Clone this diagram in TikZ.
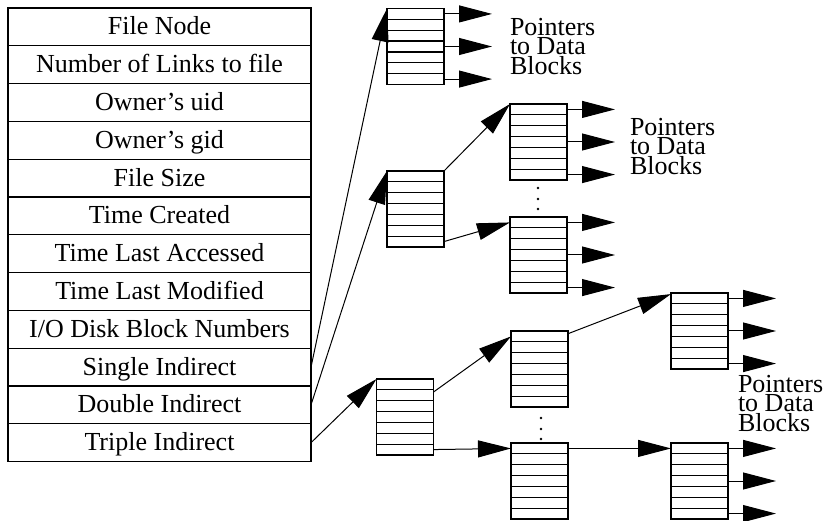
\documentclass[tikz,border=0pt]{standalone}
\usepackage{fontspec}
\setmainfont{Liberation Serif}
\usetikzlibrary{arrows.meta,calc}

\begin{document}
\begin{tikzpicture}[x=1pt,y=-1pt,
  every node/.style={inner sep=0pt, outer sep=0pt},
  field/.style={draw, line width=1.2pt, minimum width=303pt, minimum height=37.8pt,
    font=\fontsize{26}{30}\selectfont, text height=18pt, text depth=2pt},
  blockbox/.style={draw, line width=1.2pt, minimum width=57pt, minimum height=76pt,
    anchor=north west,
    path picture={
      \foreach \k in {1,...,6}
        \draw[line width=1.2pt]
          ($(path picture bounding box.north west)!{\k/7}!(path picture bounding box.south west)$) --
          ($(path picture bounding box.north east)!{\k/7}!(path picture bounding box.south east)$);
    }},
  ptr/.style={-{Triangle[length=33pt,width=17pt]}, line width=1pt},
  note/.style={anchor=north west, align=left,
    font=\fontsize{26}{19.7}\selectfont},
  dot/.style={fill=black}
]
\lineskiplimit=-30pt
\useasboundingbox (0,0) rectangle (825,521);

% inode table
\foreach \name/\txt [count=\i] in {fnode/File Node, links/Number of Links to file,
    uid/Owner's uid, gid/Owner's gid, fsize/File Size, created/Time Created,
    accessed/Time Last Accessed, modified/Time Last Modified,
    disk/{I/O Disk Block Numbers}, single/Single Indirect,
    double/Double Indirect, triple/Triple Indirect}
  \node[field] (\name) at (159.5, {8 + 37.8*(\i-0.5)}) {\txt};

% pointer blocks
\node[blockbox] (b1)  at (387, 8.5) {};
\node[blockbox] (b2)  at (387, 171) {};
\node[blockbox] (b3)  at (510, 104) {};
\node[blockbox] (b4)  at (510, 217) {};
\node[blockbox] (t1)  at (376.5, 379) {};
\node[blockbox] (t2a) at (511, 331) {};
\node[blockbox] (t2b) at (511, 443) {};
\node[blockbox] (t3a) at (671, 293) {};
\node[blockbox] (t3b) at (671, 443) {};

% pointers to data blocks
\foreach \b in {b1,b3,b4,t3a,t3b}
  \foreach \f in {1,4,7}
    \draw[ptr] ($(\b.north east)!{(\f-0.5)/7}!(\b.south east)$) -- ++(48,0);

% indirection links
\draw[ptr] (single.east) -- (b1.north west);
\draw[ptr] (double.east) -- (b2.north west);
\draw[ptr] (triple.east) -- (t1.north west);
\draw[ptr] (b2.north east) -- (b3.north west);
\draw[ptr] ($(b2.north east)!{6.5/7}!(b2.south east)$) -- ($(b4.north west)!{0.5/7}!(b4.south west)$);
\draw[ptr] ($(t1.north east)!{1.2/7}!(t1.south east)$) -- ($(t2a.north west)!{0.5/7}!(t2a.south west)$);
\draw[ptr] ($(t1.north east)!{6.5/7}!(t1.south east)$) -- ($(t2b.north west)!{0.5/7}!(t2b.south west)$);
\draw[ptr] ($(t2a.north east)!{0.25/7}!(t2a.south east)$) -- ($(t3a.north west)!{0.1/7}!(t3a.south west)$);
\draw[ptr] ($(t2b.north east)!{0.5/7}!(t2b.south east)$) -- ($(t3b.north west)!{0.5/7}!(t3b.south west)$);

% elision dots
\foreach \y in {188,199,209} \fill[dot] (538,\y) circle (1.3);
\foreach \y in {418,429,439} \fill[dot] (541,\y) circle (1.3);

% labels
\node[note] (lab1) at (510,18)  {Pointers\\to Data\\Blocks};
\node[note] (lab2) at (630,118) {Pointers\\to Data\\Blocks};
\node[note] (lab3) at (738,375) {Pointers\\to Data\\Blocks};
\end{tikzpicture}
\end{document}
